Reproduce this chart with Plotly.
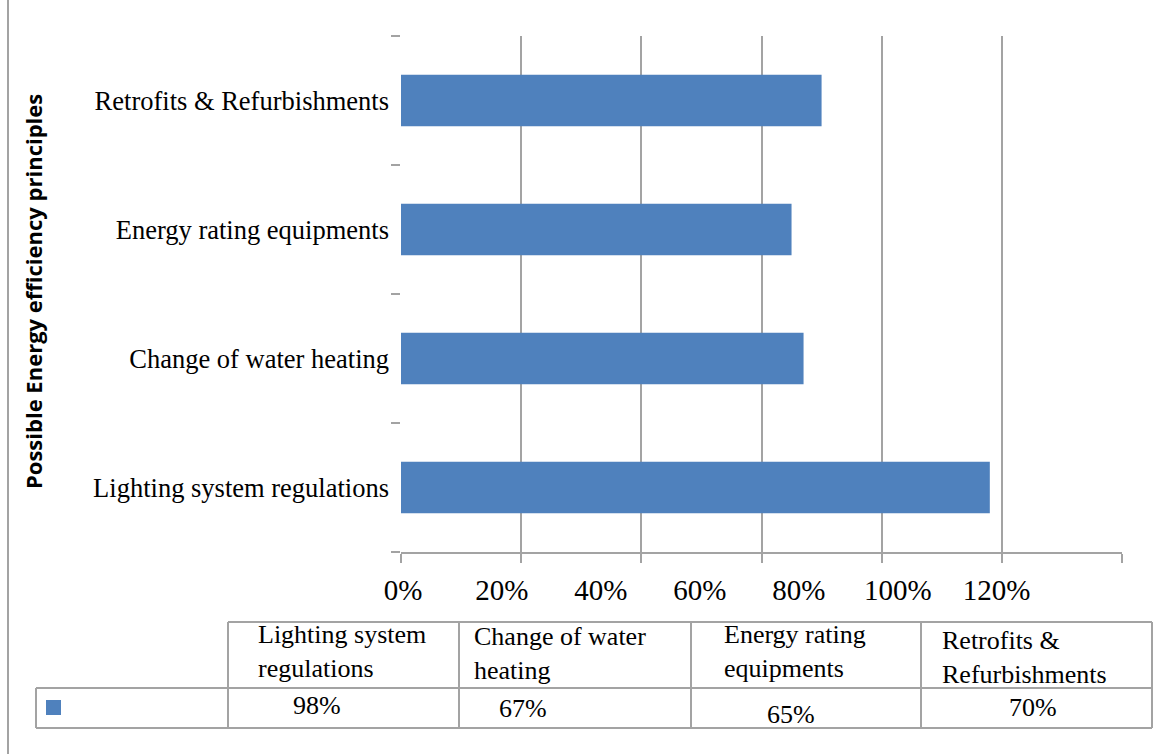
import plotly.graph_objects as go

# ---- data -----------------------------------------------------------------
principles = [
    "Lighting system regulations",
    "Change of water heating",
    "Energy rating equipments",
    "Retrofits & Refurbishments",
]
header_lines = [
    "Lighting system<br>regulations",
    "Change of water<br>heating",
    "Energy rating<br>equipments",
    "Retrofits &<br>Refurbishments",
]
share_pct = [98, 67, 65, 70]
axis_ticks = [0, 20, 40, 60, 80, 100, 120]
axis_tick_text = ["0%", "20%", "40%", "60%", "80%", "100%", "120%"]
y_title = "Possible Energy efficiency principles"

# ---- styling / layout constants ---------------------------------------------
W, H = 1173, 754
PLOT_L, PLOT_R, PLOT_T, PLOT_B = 401, 1122, 36, 552
BAR_COLOR = "#4F81BD"
LINE_COLOR = "#a3a3a3"
SERIF = "Liberation Serif, Times New Roman, serif"
SANS = "Open Sans, Liberation Sans, sans-serif"

# table geometry (pixels)
col_edges = [36, 228, 459, 691, 921, 1152]
row_top, row_mid, row_bot = 622, 688, 728
header_left = [256, 472, 722, 940]
header_mid = [651, 653, 651, 657]
value_center = [317, 523, 791, 1033]
value_mid = [705, 708, 714, 707]

# tick labels sit on their own evenly spaced scale under the axis
LABEL_FIRST_PX, LABEL_STEP_PX = 403, 98.95


def px_x(x):
    return (x - PLOT_L) / (PLOT_R - PLOT_L)


def px_y(y):
    return (PLOT_B - y) / (PLOT_B - PLOT_T)


fig = go.Figure()
fig.add_trace(go.Bar(
    x=share_pct,
    y=principles,
    orientation="h",
    marker=dict(color=BAR_COLOR, line=dict(width=0)),
    showlegend=False,
    hoverinfo="skip",
))
# empty trace so the label axis gets drawn
fig.add_trace(go.Scatter(x=[None], y=[None], xaxis="x2", yaxis="y",
                         mode="markers", showlegend=False, hoverinfo="skip"))

units_per_px = 20 / LABEL_STEP_PX
x2_lo = (PLOT_L - LABEL_FIRST_PX) * units_per_px
x2_hi = (PLOT_R - LABEL_FIRST_PX) * units_per_px

fig.update_layout(
    width=W, height=H,
    margin=dict(l=PLOT_L, r=W - PLOT_R, t=PLOT_T, b=H - PLOT_B, pad=0),
    paper_bgcolor="white", plot_bgcolor="white",
    bargap=0.6,
    xaxis=dict(
        range=[0, 120], tickvals=axis_ticks, showticklabels=False,
        showgrid=True, gridcolor=LINE_COLOR, gridwidth=1.6,
        zeroline=False, showline=True, linecolor=LINE_COLOR, linewidth=1.6,
        ticks="outside", ticklen=9, tickcolor=LINE_COLOR, tickwidth=1.6,
        fixedrange=True,
    ),
    xaxis2=dict(
        overlaying="x", side="bottom", anchor="y",
        range=[x2_lo, x2_hi], tickvals=axis_ticks, ticktext=axis_tick_text,
        showgrid=False, zeroline=False, showline=False, ticks="",
        ticklabelstandoff=18,
        tickfont=dict(family=SERIF, size=29, color="black"),
        fixedrange=True,
    ),
    yaxis=dict(
        type="category", showgrid=False, zeroline=False, showline=False,
        ticks="outside", ticklen=9, tickcolor=LINE_COLOR, tickwidth=1.6,
        tickson="boundaries", ticklabelstandoff=11,
        tickfont=dict(family=SERIF, size=26.5, color="black"),
        fixedrange=True,
    ),
)

annotations = [dict(
    text=f"<b>{y_title}</b>", textangle=-90,
    xref="paper", yref="paper", x=px_x(33), y=px_y(292),
    xanchor="center", yanchor="middle", showarrow=False,
    font=dict(family=SANS, size=22, color="black"),
)]
for i, label in enumerate(header_lines):
    annotations.append(dict(
        text=label, align="left",
        xref="paper", yref="paper", x=px_x(header_left[i]), y=px_y(header_mid[i]),
        xanchor="left", yanchor="middle", showarrow=False,
        font=dict(family=SERIF, size=26, color="black"),
    ))
for i, v in enumerate(share_pct):
    annotations.append(dict(
        text=f"{v}%",
        xref="paper", yref="paper", x=px_x(value_center[i]), y=px_y(value_mid[i]),
        xanchor="center", yanchor="middle", showarrow=False,
        font=dict(family=SERIF, size=26, color="black"),
    ))
fig.update_layout(annotations=annotations)

line = dict(color=LINE_COLOR, width=2)
shapes = []


def seg(x0, y0, x1, y1):
    shapes.append(dict(type="line", xref="paper", yref="paper",
                       x0=px_x(x0), y0=px_y(y0), x1=px_x(x1), y1=px_y(y1),
                       line=line, layer="above"))


# outer frame edge on the left
seg(8, 0, 8, H)
# data table grid
seg(col_edges[1], row_top, col_edges[-1], row_top)
seg(col_edges[0], row_mid, col_edges[-1], row_mid)
seg(col_edges[0], row_bot, col_edges[-1], row_bot)
seg(col_edges[0], row_mid, col_edges[0], row_bot)
for xe in col_edges[1:]:
    seg(xe, row_top, xe, row_bot)
# legend key in the value row
shapes.append(dict(type="rect", xref="paper", yref="paper",
                   x0=px_x(46), x1=px_x(61), y0=px_y(715), y1=px_y(700),
                   fillcolor=BAR_COLOR, line=dict(width=0)))
fig.update_layout(shapes=shapes)

fig.write_html("out.html")
